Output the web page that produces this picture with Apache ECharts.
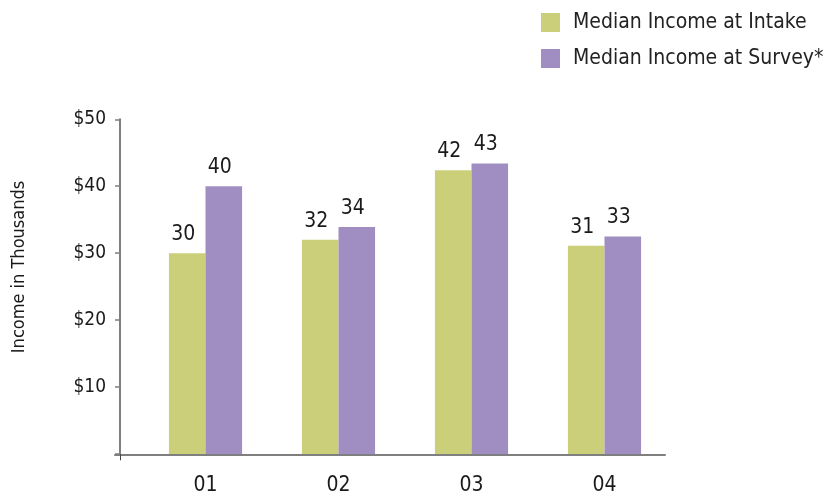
<!DOCTYPE html>
<html>
<head>
<meta charset="utf-8">
<script src="https://cdn.jsdelivr.net/npm/echarts@6/dist/echarts.min.js"></script>
<style>
html,body{margin:0;padding:0;background:#fff;}
#c{width:825px;height:496px;}
</style>
</head>
<body>
<div id="c"></div>
<script>
const categories = ['01', '02', '03', '04'];
const intake = [30, 32, 42.4, 31.1];
const survey = [40, 33.9, 43.4, 32.5];
const seriesNames = ['Median Income at Intake', 'Median Income at Survey*'];
const yTickValues = [0, 10, 20, 30, 40, 50];
const yAxisTitle = 'Income in Thousands';

const FONT = "'DejaVu Sans Condensed', 'Liberation Sans Narrow', sans-serif";
const TXT = '#1a1a1a';
const AX = '#7f7f7f';

const chart = echarts.init(document.getElementById('c'), null, {renderer: 'canvas'});
const labelCfg = {
  show: true, position: 'top', distance: 8, offset: [-4, 0],
  fontFamily: FONT, fontSize: 21, color: TXT,
  formatter: p => String(Math.round(p.value))
};
chart.setOption({
  animation: false,
  backgroundColor: '#fff',
  legend: {
    orient: 'vertical', left: 541, top: 12, padding: 0,
    itemWidth: 19, itemHeight: 19, itemGap: 15,
    icon: 'rect',
    textStyle: {fontFamily: FONT, fontSize: 21, color: '#222', padding: [2, 0, 0, 8], lineHeight: 19},
    data: seriesNames
  },
  grid: [
    {left: 139, right: 154, top: 119.3, bottom: 41.7},
    {left: 115, right: 160, top: 119.3, bottom: 41.7}
  ],
  xAxis: [
    {
      type: 'category', gridIndex: 0, data: categories,
      axisLine: {show: false}, axisTick: {show: false},
      axisLabel: {fontFamily: FONT, fontSize: 21, color: TXT, margin: 21}
    },
    {
      type: 'value', gridIndex: 1, min: 0, max: 550,
      axisLine: {show: true, lineStyle: {color: AX, width: 2}},
      axisTick: {show: true, customValues: [5], length: 6, lineStyle: {color: '#444', width: 1}},
      axisLabel: {show: false}, splitLine: {show: false}
    }
  ],
  yAxis: [
    {
      type: 'value', gridIndex: 0, min: yTickValues[0], max: yTickValues[yTickValues.length - 1], interval: 10, offset: 19,
      axisLine: {show: true, lineStyle: {color: AX, width: 2}},
      axisTick: {show: true, length: 5, lineStyle: {color: AX, width: 1.5}},
      axisLabel: {fontFamily: FONT, fontSize: 19, color: TXT, margin: 14,
        formatter: v => v === 0 ? '' : '$' + v},
      splitLine: {show: false}
    },
    {type: 'value', gridIndex: 1, show: false, min: 0, max: 50}
  ],
  graphic: [{
    type: 'text', x: 19, y: 267, rotation: Math.PI / 2,
    style: {text: yAxisTitle, fontFamily: FONT, fontSize: 18, fill: TXT,
      align: 'center', verticalAlign: 'middle'}
  }],
  series: [
    {
      name: seriesNames[0], type: 'bar', xAxisIndex: 0, yAxisIndex: 0,
      data: intake, barGap: '0%', barCategoryGap: '45%',
      itemStyle: {color: '#cccf79'}, label: labelCfg
    },
    {
      name: seriesNames[1], type: 'bar', xAxisIndex: 0, yAxisIndex: 0,
      data: survey, barGap: '0%', barCategoryGap: '45%',
      itemStyle: {color: '#a08ec2'}, label: labelCfg
    }
  ]
});
</script>
</body>
</html>
